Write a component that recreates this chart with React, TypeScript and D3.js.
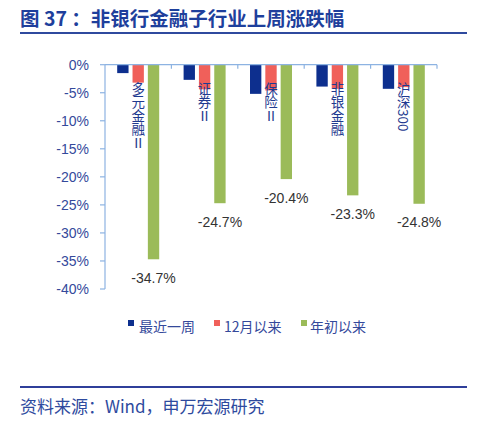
import React from "react";
import * as d3 from "d3";

const categories = ["多元金融Ⅱ", "证券Ⅱ", "保险Ⅱ", "非银金融", "沪深300"];
const seriesNames = ["最近一周", "12月以来", "年初以来"];
const weekValues = [-1.5, -2.7, -5.2, -3.9, -4.3];
const decValues = [-3.2, -4.4, -4.6, -4.3, -4.0];
const ytdValues = [-34.7, -24.7, -20.4, -23.3, -24.8];
const yTicks = [0, -5, -10, -15, -20, -25, -30, -35, -40];
const colors = ["#0D2F8E", "#F0605A", "#9BBB59"];

const W = 482;
const H = 433;
const latin = "'Liberation Sans', Arial, 'Noto Sans CJK SC', sans-serif";
const cjk = "'Noto Sans CJK SC', 'Liberation Sans', sans-serif";
const blueText = "#34499B";

export default function App() {
  const x0 = d3.scaleBand<string>().domain(categories).range([105, 437]).padding(0);
  const x1 = d3.scaleBand<string>().domain(seriesNames).range([-21, 21]).paddingInner(0.26);
  const y = d3.scaleLinear().domain([-40, 0]).range([289, 64.7]);
  const series = [weekValues, decValues, ytdValues];

  return (
    <svg width={W} height={H} style={{ position: "absolute", left: 0, top: 0, background: "#fff" }}>
      {/* Title */}
      <text x={20} y={26} fontFamily={cjk} fontWeight="bold" fontSize={19.5} fill="#1E3F9C">
        图 37 ：非银行金融子行业上周涨跌幅
      </text>
      <line x1={20} x2={467} y1={33} y2={33} stroke="#2F4A9E" strokeWidth={2} />

      {/* Y axis */}
      <line x1={105} x2={105} y1={y(0)} y2={y(-40)} stroke="#8DB3E2" strokeWidth={1.2} />
      {yTicks.map((t) => (
        <g key={t}>
          <line x1={100} x2={105} y1={y(t)} y2={y(t)} stroke="#8DB3E2" strokeWidth={1.2} />
          <text x={89} y={y(t) + 5} textAnchor="end" fontFamily={latin} fontSize={14} fill={blueText}>
            {t}%
          </text>
        </g>
      ))}

      {/* Bars */}
      {series.map((vals, si) =>
        vals.map((v, ci) => {
          const cx = (x0(categories[ci]) as number) + x0.bandwidth() / 2;
          const bx = cx + (x1(seriesNames[si]) as number);
          return (
            <rect
              key={`${si}-${ci}`}
              x={bx}
              y={y(0)}
              width={x1.bandwidth()}
              height={y(v) - y(0)}
              fill={colors[si]}
            />
          );
        })
      )}

      {/* X axis */}
      <line x1={105} x2={437} y1={y(0)} y2={y(0)} stroke="#8DB3E2" strokeWidth={1.2} />
      {categories.map((c) => {
        const xe = (x0(c) as number) + x0.bandwidth();
        return <line key={c} x1={xe} x2={xe} y1={y(0)} y2={y(0) + 4} stroke="#8DB3E2" strokeWidth={1.2} />;
      })}

      {/* Category labels (vertical) */}
      {categories.map((c) => {
        const cx = (x0(c) as number) + x0.bandwidth() / 2;
        return (
          <text
            key={c}
            x={cx}
            y={82}
            fontFamily={cjk}
            fontSize={13.5}
            fill="#1F3A8F"
            style={{ writingMode: "vertical-rl" as any }}
          >
            {c}
          </text>
        );
      })}

      {/* Data labels for YTD */}
      {ytdValues.map((v, ci) => {
        const cx = (x0(categories[ci]) as number) + x0.bandwidth() / 2 + (x1(seriesNames[2]) as number) + x1.bandwidth() / 2;
        return (
          <text key={ci} x={cx} y={y(v) + 23.5} textAnchor="middle" fontFamily={latin} fontSize={14} fill="#333">
            {v.toFixed(1)}%
          </text>
        );
      })}

      {/* Legend */}
      {[
        { x: 128, tx: 139 },
        { x: 214, tx: 224 },
        { x: 301, tx: 310 },
      ].map((p, i) => (
        <g key={i}>
          <rect x={p.x} y={320} width={6} height={6} fill={colors[i]} />
          <text x={p.tx} y={332} fontFamily={cjk} fontSize={14} fill={blueText}>
            {seriesNames[i]}
          </text>
        </g>
      ))}

      {/* Footer */}
      <line x1={20} x2={467} y1={387} y2={387} stroke="#2F3F9A" strokeWidth={2} />
      <text x={20} y={413} fontFamily={cjk} fontSize={17} fill="#2E4A9E">
        资料来源：Wind，申万宏源研究
      </text>
    </svg>
  );
}
